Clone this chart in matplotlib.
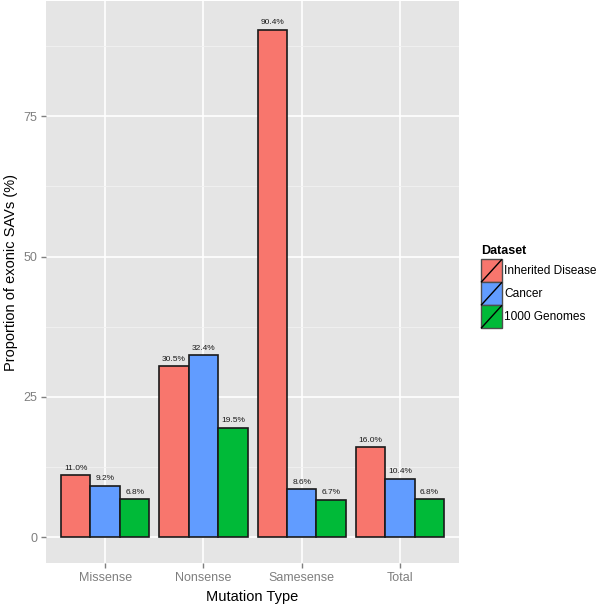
import numpy as np
import matplotlib.pyplot as plt
from matplotlib.patches import Rectangle
from matplotlib.lines import Line2D

plt.rcParams["font.family"] = ["Liberation Sans", "DejaVu Sans"]

categories = ["Missense", "Nonsense", "Samesense", "Total"]
datasets = ["Inherited Disease", "Cancer", "1000 Genomes"]
inherited = [11.0, 30.5, 90.4, 16.0]
cancer = [9.2, 32.4, 8.6, 10.4]
genomes = [6.8, 19.5, 6.7, 6.8]
colors = ["#F8766D", "#619CFF", "#00BA38"]

fig = plt.figure(figsize=(6, 6.06), dpi=100)
ax = fig.add_axes([0.077, 0.071, 0.688, 0.927])
ax.set_facecolor("#E5E5E5")

x = np.arange(1, len(categories) + 1)
w = 0.3
series = [inherited, cancer, genomes]
for i, vals in enumerate(series):
    pos = x + (i - 1) * w
    ax.bar(pos, vals, width=w, color=colors[i], edgecolor="#1a1a1a", linewidth=1.2, zorder=3)
    for px, v in zip(pos, vals):
        ax.text(px, v + 0.6, f"{v:.1f}%", ha="center", va="bottom", fontsize=6, color="#1a1a1a", zorder=4)

ax.set_xlim(0.4, 4.6)
ax.set_ylim(-4.6, 95.5)
ax.set_yticks([0, 25, 50, 75])
ax.set_yticks([12.5, 37.5, 62.5, 87.5], minor=True)
ax.set_xticks(x)
ax.set_xticklabels(categories)
ax.grid(True, which="major", color="white", linewidth=1.2, zorder=0)
ax.grid(True, which="minor", axis="y", color="#F2F2F2", linewidth=0.6, zorder=0)
for s in ax.spines.values():
    s.set_visible(False)
ax.tick_params(axis="both", which="major", colors="#7F7F7F", labelsize=9, length=3.5, width=1,
               labelcolor="#7F7F7F", pad=3)
ax.tick_params(axis="both", which="minor", length=0)
ax.set_xlabel("Mutation Type", fontsize=10.5, labelpad=4)
fig.text(0.018, 0.55, "Proportion of exonic SAVs (%)", fontsize=10.5, rotation=90, ha="center", va="center")

# legend drawn by hand (ggplot style keys with diagonal)
lax = fig.add_axes([0.79, 0.455, 0.21, 0.15])
lax.set_xlim(0, 126)
lax.set_ylim(91, 0)
lax.axis("off")
lax.text(7, 12, "Dataset", fontsize=9, fontweight="bold", va="center", ha="left")
for i, name in enumerate(datasets):
    y0 = 20 + i * 23
    lax.add_patch(Rectangle((7, y0), 21, 23, facecolor=colors[i], edgecolor="#4d4d4d", linewidth=1))
    lax.add_line(Line2D([7.5, 27.5], [y0 + 22.5, y0 + 0.5], color="black", linewidth=1))
    lax.text(30.5, y0 + 11.5, name, fontsize=8.6, va="center", ha="left")

fig.savefig("out.png", dpi=100)
